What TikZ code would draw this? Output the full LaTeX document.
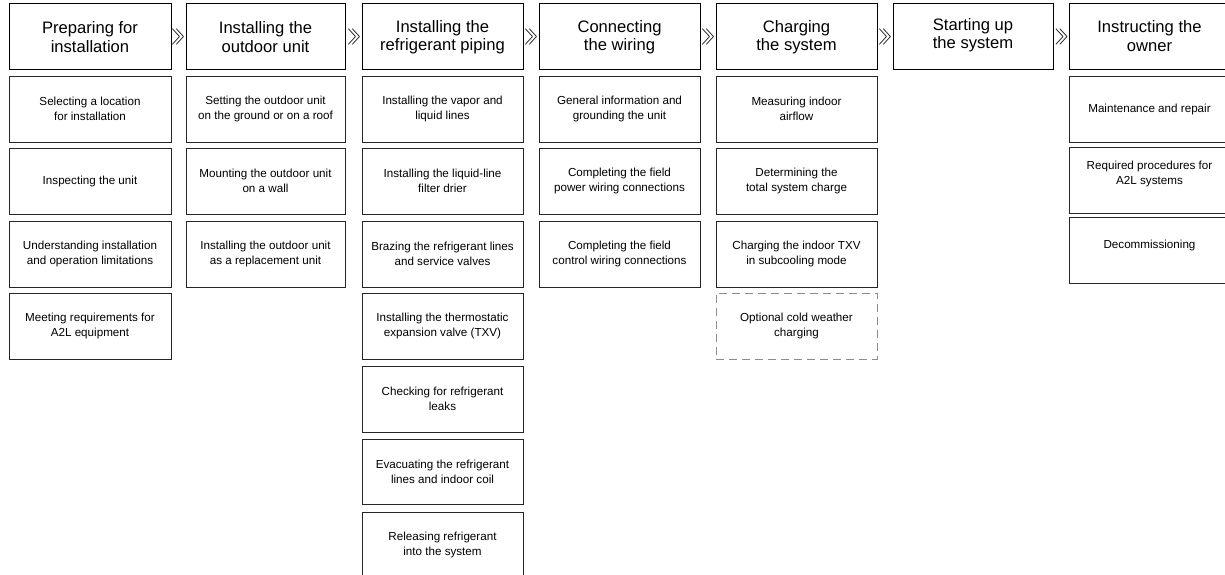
\documentclass[tikz,border=0pt]{standalone}
\usepackage{fontspec}
\setmainfont{Liberation Sans}
\begin{document}
\begin{tikzpicture}[x=1pt,y=-1pt,
  head/.style={draw=black, line width=0.9pt, inner sep=0pt, align=center,
    font=\fontsize{16.6}{18.4}\selectfont},
  sub/.style={draw=black!85, line width=0.9pt, inner sep=0pt, align=center,
    font=\fontsize{11.65}{15.2}\selectfont},
  opt/.style={sub, draw=black!45, dash pattern=on 8pt off 5pt},
  flow/.style={inner sep=0pt, font=\fontsize{16}{16}\selectfont}]
\useasboundingbox (0,0) rectangle (1225,575);
\clip (0,0) rectangle (1225,575);
% helper: box from (x1,y1) to (x2,y2), text shifted by #8
\newcommand\mybox[8]{%
  \node[#1, minimum width={#4-#2}, minimum height={#5-#3}] (#6) at ({(#2+#4)/2},{(#3+#5)/2}) {};
  \node[#1, draw=none, anchor=center] at ({(#2+#4)/2},{(#3+#5)/2+#8}) {#7};}
\newcommand\flowmark{\scalebox{0.75}[1.5]{$\gg$}}
% headers
\mybox{head}{9}{3}{171}{69}{h1}{Preparing for\\installation}{1}
\mybox{head}{186}{3}{345}{69}{h2}{Installing the\\outdoor unit}{1}
\mybox{head}{362}{3}{523}{69}{h3}{Installing the\\refrigerant piping}{1}
\mybox{head}{539}{3}{700}{69}{h4}{Connecting\\the wiring}{1}
\mybox{head}{716}{3}{877}{69}{h5}{Charging\\the system}{1}
\mybox{head}{893}{3}{1053}{69}{h6}{Starting up\\the system}{-1}
\mybox{head}{1069}{3}{1230}{69}{h7}{Instructing the\\owner}{0}
% flow markers
\node[flow] (f1) at (178,37.5) {\flowmark};
\node[flow] (f2) at (354,37.5) {\flowmark};
\node[flow] (f3) at (531,37.5) {\flowmark};
\node[flow] (f4) at (708,37.5) {\flowmark};
\node[flow] (f5) at (885,37.5) {\flowmark};
\node[flow] (f6) at (1061.5,37.5) {\flowmark};
% column 1
\mybox{sub}{9}{76}{171}{142}{a1}{Selecting a location\\for installation}{0}
\mybox{sub}{9}{148}{171}{214}{a2}{Inspecting the unit}{0}
\mybox{sub}{9}{221}{171}{287}{a3}{Understanding installation\\and operation limitations}{0}
\mybox{sub}{9}{293}{171}{359}{a4}{Meeting requirements for\\A2L equipment}{0}
% column 2
\mybox{sub}{186}{76}{345}{142}{b1}{Setting the outdoor unit\\on the ground or on a roof}{0}
\mybox{sub}{186}{148}{345}{214}{b2}{Mounting the outdoor unit\\on a wall}{0}
\mybox{sub}{186}{221}{345}{287}{b3}{Installing the outdoor unit\\as a replacement unit}{0}
% column 3
\mybox{sub}{362}{76}{523}{142}{c1}{Installing the vapor and\\liquid lines}{0}
\mybox{sub}{362}{148}{523}{214}{c2}{Installing the liquid-line\\filter drier}{0}
\mybox{sub}{362}{221}{523}{287}{c3}{Brazing the refrigerant lines\\and service valves}{0}
\mybox{sub}{362}{293}{523}{359}{c4}{Installing the thermostatic\\expansion valve (TXV)}{0}
\mybox{sub}{362}{366}{523}{432}{c5}{Checking for refrigerant\\leaks}{0}
\mybox{sub}{362}{439}{523}{504}{c6}{Evacuating the refrigerant\\lines and indoor coil}{0}
\node[sub, minimum width=161, minimum height=80] (c7) at (442.5,552) {};
\node[sub, draw=none] at (442.5,545) {Releasing refrigerant\\into the system};
% column 4
\mybox{sub}{539}{76}{700}{142}{d1}{General information and\\grounding the unit}{0}
\mybox{sub}{539}{148}{700}{214}{d2}{Completing the field\\power wiring connections}{0}
\mybox{sub}{539}{221}{700}{287}{d3}{Completing the field\\control wiring connections}{0}
% column 5
\mybox{sub}{716}{76}{877}{142}{e1}{Measuring indoor\\airflow}{0}
\mybox{sub}{716}{148}{877}{214}{e2}{Determining the\\total system charge}{0}
\mybox{sub}{716}{221}{877}{287}{e3}{Charging the indoor TXV\\in subcooling mode}{0}
\mybox{opt}{716}{293}{877}{359}{e4}{Optional cold weather\\charging}{0}
% column 7
\mybox{sub}{1069}{76}{1230}{142}{g1}{Maintenance and repair}{0}
\mybox{sub}{1069}{147}{1230}{213}{g2}{Required procedures for\\A2L systems}{-6}
\mybox{sub}{1069}{217}{1230}{283}{g3}{Decommissioning}{-5}
\end{tikzpicture}
\end{document}
